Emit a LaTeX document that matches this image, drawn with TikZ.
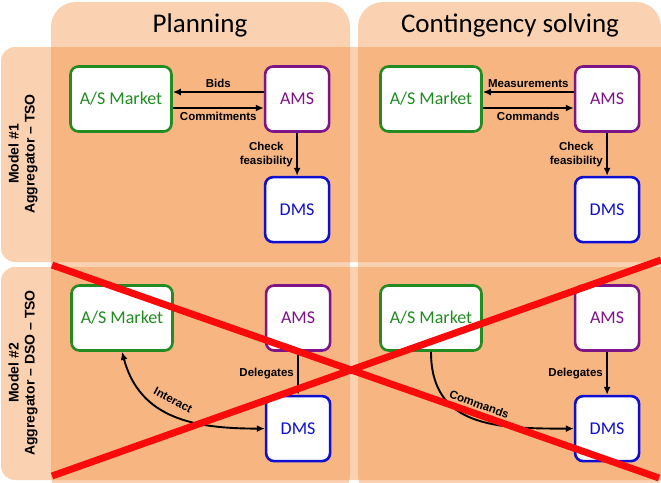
\documentclass[tikz,border=0pt]{standalone}
\usepackage{fontspec}
\setmainfont{Carlito}
\newfontfamily\labelfont{Liberation Sans}
\usetikzlibrary{arrows.meta, positioning}

\definecolor{bandorange}{RGB}{242,140,60}
\definecolor{mktgreen}{RGB}{34,139,34}
\definecolor{amspurple}{RGB}{125,20,135}
\definecolor{dmsblue}{RGB}{15,15,210}
\definecolor{crossred}{RGB}{250,10,10}

\begin{document}
\begin{tikzpicture}[
  x=1pt, y=-1pt,
  node distance=43pt and 91pt,
  band/.style={fill=bandorange, fill opacity=0.4},
  box/.style={rectangle, draw, line width=2.6pt, rounded corners=8pt, fill=white, minimum height=65pt, font=\fontsize{18}{20}\selectfont},
  mkt/.style={box, draw=mktgreen, text=mktgreen, minimum width=101pt},
  ams/.style={box, draw=amspurple, text=amspurple, minimum width=64pt},
  dms/.style={box, draw=dmsblue, text=dmsblue, minimum width=64pt},
  arrow/.style={-{Latex[length=8pt,width=7pt]}, line width=1.9pt},
  lbl/.style={font=\labelfont\bfseries\fontsize{11.5}{13.5}\selectfont, align=center},
  title/.style={font=\fontsize{27}{30}\selectfont},
  model/.style={font=\labelfont\bfseries\fontsize{14}{16}\selectfont, align=center, rotate=90},
  cross/.style={draw=crossred, line width=7pt}
]
\useasboundingbox (0,0) rectangle (661,482);

\path[band, rounded corners=25pt] (51,2) rectangle (350,500);
\path[band, rounded corners=25pt] (358,2) rectangle (661,500);
\path[band, rounded corners=14pt] (1,47) rectangle (675,262);
\path[band, rounded corners=14pt] (1,267) rectangle (675,480);

\node[title] (ttl-plan) at (200,25) {Planning};
\node[title] (ttl-cont) at (510,25) {Contingency solving};
\node[model] (mdl-1) at (23,154) {Model \#1\\Aggregator \textendash{} TSO};
\node[model] (mdl-2) at (23,373) {Model \#2\\Aggregator \textendash{} DSO \textendash{} TSO};

\node[mkt] (mkt-p1) at (121,99) {A/S Market};
\node[ams, right=of mkt-p1] (ams-p1) {AMS};
\node[dms, below=of ams-p1] (dms-p1) {DMS};

\node[mkt] (mkt-c1) at (431,99) {A/S Market};
\node[ams, right=of mkt-c1] (ams-c1) {AMS};
\node[dms, below=of ams-c1] (dms-c1) {DMS};

\node[mkt] (mkt-p2) at (122,318) {A/S Market};
\node[ams, right=of mkt-p2] (ams-p2) {AMS};
\node[dms, below=of ams-p2] (dms-p2) {DMS};

\node[mkt] (mkt-c2) at (431,318) {A/S Market};
\node[ams, right=of mkt-c2] (ams-c2) {AMS};
\node[dms, below=of ams-c2] (dms-c2) {DMS};

\draw[arrow] ([yshift=7pt]ams-p1.west) -- node[lbl, above] {Bids} ([yshift=7pt]mkt-p1.east);
\draw[arrow] ([yshift=-9pt]mkt-p1.east) -- node[lbl, below] {Commitments} ([yshift=-9pt]ams-p1.west);
\draw[arrow] (ams-p1) -- node[lbl, left] {Check\\feasibility} (dms-p1);

\draw[arrow] ([yshift=7pt]ams-c1.west) -- node[lbl, above] {Measurements} ([yshift=7pt]mkt-c1.east);
\draw[arrow] ([yshift=-9pt]mkt-c1.east) -- node[lbl, below] {Commands} ([yshift=-9pt]ams-c1.west);
\draw[arrow] (ams-c1) -- node[lbl, left] {Check\\feasibility} (dms-c1);

\draw[arrow] (ams-p2) -- node[lbl, left] {Delegates} (dms-p2);
\draw[arrow, {Latex[length=8pt,width=7pt]}-{Latex[length=8pt,width=7pt]}] (mkt-p2.south) to[out=-75, in=180, looseness=1.1] node[lbl, sloped, above=5pt, pos=0.45] {Interact} (dms-p2.west);

\draw[arrow] (ams-c2) -- node[lbl, left] {Delegates} (dms-c2);
\draw[arrow] (mkt-c2.south) to[out=-90, in=180, looseness=1.2] node[lbl, sloped, above=7pt, pos=0.5] {Commands} (dms-c2.west);

\draw[cross] (52,265) -- (659,478);
\draw[cross] (52,476) -- (661,260);
\end{tikzpicture}
\end{document}
